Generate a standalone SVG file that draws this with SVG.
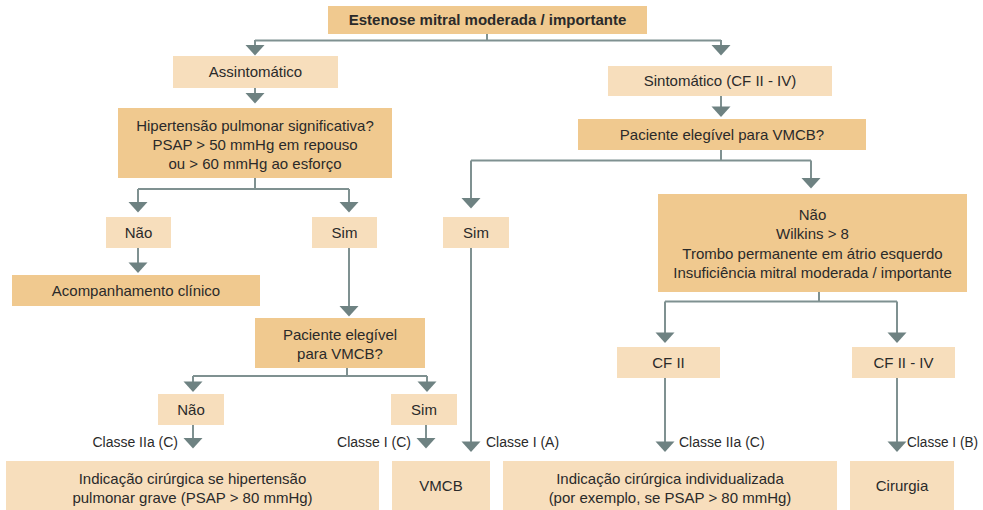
<svg xmlns="http://www.w3.org/2000/svg" xmlns:xlink="http://www.w3.org/1999/xlink" width="983" height="510" viewBox="0 0 983 510">
<style>
.dk{fill:#F0C98F}
.lt{fill:#F7DEBC}
text{font-family:"Liberation Sans",Arial,sans-serif;font-size:15px;fill:#2a2a2a;text-anchor:middle}
.b{font-weight:bold}
.r{text-anchor:end;font-size:14px}
.l{text-anchor:start;font-size:14px}
#connectors path{fill:none;stroke:#7F9191;stroke-width:2}
.ah{fill:#6E8282}
</style>
<defs>
<path id="ah" class="ah" d="M-9.5,0 L9.5,0 L0,10.5 Z"/>
</defs>
<rect width="983" height="510" fill="#ffffff"/>
<g id="connectors">
<path d="M487,34 V40.5 M255,40.5 H721 M255,40 V46 M721,40 V46"/>
<path d="M255,88 V94"/>
<path d="M255,178 V189 M138,189 H349 M138,189 V203 M349,189 V203"/>
<path d="M138,248 V263"/>
<path d="M349,248 V307"/>
<path d="M347,368 V376 M193,376 H427 M193,376 V382 M427,376 V382"/>
<path d="M193,425 V439 M426,425 V439"/>
<path d="M721,96 V108"/>
<path d="M721,150 V160.5 M471,160.5 H811 M471,160.5 V199 M811,160.5 V179"/>
<path d="M471,248 V442"/>
<path d="M819,292 V301.5 M665,301.5 H897 M665,301.5 V333 M897,301.5 V333"/>
<path d="M665,378 V442 M897,378 V442"/>
<use xlink:href="#ah" x="255" y="45"/>
<use xlink:href="#ah" x="721" y="45"/>
<use xlink:href="#ah" x="255" y="93"/>
<use xlink:href="#ah" x="138" y="202"/>
<use xlink:href="#ah" x="349" y="202"/>
<use xlink:href="#ah" x="138" y="262.5"/>
<use xlink:href="#ah" x="349" y="306"/>
<use xlink:href="#ah" x="193" y="381.5"/>
<use xlink:href="#ah" x="427" y="381.5"/>
<use xlink:href="#ah" x="193" y="438"/>
<use xlink:href="#ah" x="426" y="438"/>
<use xlink:href="#ah" x="721" y="106.5"/>
<use xlink:href="#ah" x="471" y="198"/>
<use xlink:href="#ah" x="811" y="178"/>
<use xlink:href="#ah" x="471" y="441.5"/>
<use xlink:href="#ah" x="665" y="332.5"/>
<use xlink:href="#ah" x="897" y="332.5"/>
<use xlink:href="#ah" x="665" y="441.5"/>
<use xlink:href="#ah" x="897" y="441.5"/>
<text class="r" x="178" y="447">Classe IIa (C)</text>
<text class="r" x="411" y="447">Classe I (C)</text>
<text class="l" x="486" y="447">Classe I (A)</text>
<text class="l" x="679" y="447">Classe IIa (C)</text>
<text class="l" x="907" y="447" textLength="71" lengthAdjust="spacingAndGlyphs">Classe I (B)</text>
</g>
<g id="n-top"><rect class="dk" x="328" y="6" width="319" height="28"/><text class="b" x="487.5" y="25">Estenose mitral moderada / importante</text></g>
<g id="n-assint"><rect class="lt" x="173" y="56" width="165" height="32"/><text x="255.5" y="77">Assintomático</text></g>
<g id="n-hip"><rect class="dk" x="118" y="108" width="274" height="70"/><text x="255" y="131">Hipertensão pulmonar significativa?</text><text x="255" y="150">PSAP &gt; 50 mmHg em repouso</text><text x="255" y="169">ou &gt; 60 mmHg ao esforço</text></g>
<g id="n-nao1"><rect class="lt" x="106" y="217" width="65" height="31"/><text x="138.5" y="237.5">Não</text></g>
<g id="n-sim1"><rect class="lt" x="312" y="217" width="65" height="31"/><text x="344.5" y="237.5">Sim</text></g>
<g id="n-sim2"><rect class="lt" x="443" y="217" width="66" height="31"/><text x="476" y="237.5">Sim</text></g>
<g id="n-acomp"><rect class="dk" x="12" y="275" width="248" height="31"/><text x="136" y="295.5">Acompanhamento clínico</text></g>
<g id="n-pac1"><rect class="dk" x="255" y="318" width="170" height="50"/><text x="340" y="340">Paciente elegível</text><text x="340" y="359">para VMCB?</text></g>
<g id="n-nao2"><rect class="lt" x="158" y="394" width="66" height="31"/><text x="191" y="414.5">Não</text></g>
<g id="n-sim3"><rect class="lt" x="391" y="394" width="66" height="31"/><text x="424" y="414.5">Sim</text></g>
<g id="n-ind1"><rect class="lt" x="6" y="461" width="373" height="49"/><text x="192.5" y="484">Indicação cirúrgica se hipertensão</text><text x="192.5" y="503">pulmonar grave (PSAP &gt; 80 mmHg)</text></g>
<g id="n-vmcb"><rect class="lt" x="392" y="461" width="98" height="49"/><text x="441" y="490.5">VMCB</text></g>
<g id="n-ind2"><rect class="lt" x="503" y="461" width="334" height="49"/><text x="670" y="484">Indicação cirúrgica individualizada</text><text x="670" y="503">(por exemplo, se PSAP &gt; 80 mmHg)</text></g>
<g id="n-cir"><rect class="lt" x="850" y="461" width="104" height="49"/><text x="902" y="490.5">Cirurgia</text></g>
<g id="n-sint"><rect class="lt" x="608" y="66" width="224" height="30"/><text x="720" y="86">Sintomático (CF II - IV)</text></g>
<g id="n-pac2"><rect class="dk" x="578" y="119" width="288" height="31"/><text x="722" y="139.5">Paciente elegível para VMCB?</text></g>
<g id="n-nao3"><rect class="dk" x="658" y="194" width="309" height="98"/><text x="812.5" y="220">Não</text><text x="812.5" y="239">Wilkins &gt; 8</text><text x="812.5" y="259">Trombo permanente em átrio esquerdo</text><text x="812.5" y="278">Insuficiência mitral moderada / importante</text></g>
<g id="n-cf2"><rect class="lt" x="617" y="347" width="103" height="31"/><text x="668.5" y="367.5">CF II</text></g>
<g id="n-cf24"><rect class="lt" x="852" y="347" width="103" height="31"/><text x="903.5" y="367.5">CF II - IV</text></g>
</svg>
